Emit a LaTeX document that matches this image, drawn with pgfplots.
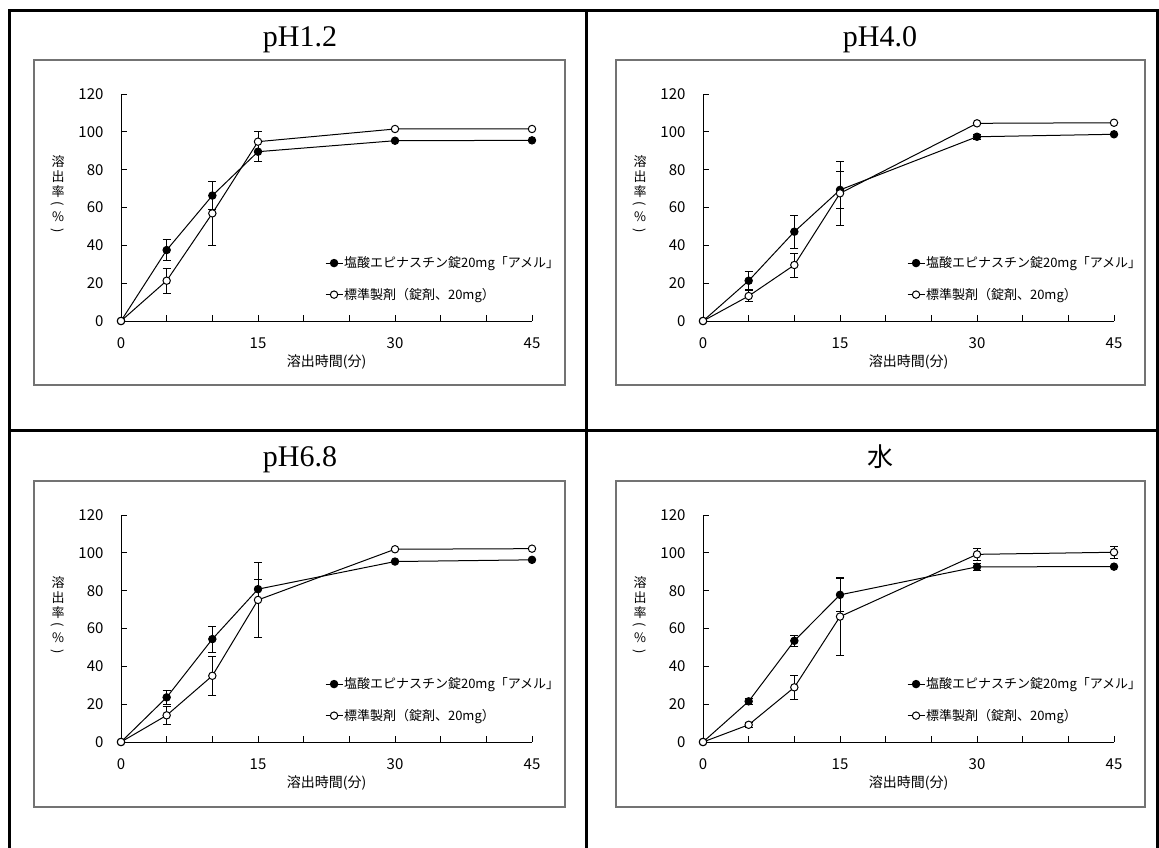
\documentclass[border=0pt]{standalone}
\usepackage{fontspec}
\setmainfont{Noto Sans CJK JP}
\newfontfamily\gothic{Noto Sans CJK JP}
\newfontfamily\mincho{Liberation Serif}
\usepackage{pgfplots}
\pgfplotsset{compat=1.18}

\pgfplotsset{
  panel/.style={
    scale only axis, width=411pt, height=227pt, anchor=south west,
    xmin=0, xmax=45, ymin=0, ymax=120, enlargelimits=false, clip=false,
    axis x line=bottom, axis y line=left,
    axis line style={-, black, line width=0.9pt},
    xtick={0,5,...,45}, xticklabels={0,,,15,,,30,,,45},
    ytick={0,20,...,120},
    tick align=inside, major tick length=6pt,
    tick style={black, line width=0.9pt},
    /pgf/number format/assume math mode=true,
    ticklabel style={font=\gothic\fontsize{15}{15}\selectfont},
    yticklabel style={xshift=-14pt},
    xticklabel style={yshift=-13pt},
    legend style={at={(0.496,0.288)}, anchor=north west, draw=none, fill=none,
      font=\gothic\fontsize{13}{15}\selectfont, row sep=17pt,
      inner sep=0pt, nodes={inner sep=1pt}},
    legend cell align=left,
    legend image code/.code={%
      \draw[mark repeat=2,mark phase=2] plot coordinates {(0pt,0pt) (8.5pt,0pt) (17pt,0pt)};},
  },
  filled/.style={black, line width=1pt, mark=*, mark size=3.7pt,
    mark options={fill=black, solid}},
  open/.style={black, line width=1pt, mark=*, mark size=3.7pt,
    mark options={fill=white, solid}},
  errs/.style={black, only marks, mark=none, forget plot,
    error bars/.cd, y dir=both, y explicit,
    error bar style={line width=0.8pt},
    error mark options={rotate=90, mark size=4pt, line width=0.8pt}},
}
\tikzset{ylab/.style={font=\gothic\fontsize{13}{13}\selectfont, inner sep=0pt, xshift=-63pt}}

\newcommand{\labels}{%
  \node[font=\gothic\fontsize{14}{14}\selectfont, yshift=-41pt] at (rel axis cs:0.5,0) {溶出時間(分)};
  \node[ylab, yshift=159pt] at (rel axis cs:0,0) {溶};
  \node[ylab, yshift=144pt] at (rel axis cs:0,0) {出};
  \node[ylab, yshift=129pt] at (rel axis cs:0,0) {率};
  \node[ylab, yshift=117pt] at (rel axis cs:0,0) {\rotatebox{-90}{(}};
  \node[ylab, yshift=104pt] at (rel axis cs:0,0) {\%};
  \node[ylab, yshift=90pt] at (rel axis cs:0,0) {\rotatebox{-90}{)}};
}

\begin{document}
\begin{tikzpicture}[x=1pt,y=1pt]
\path[use as bounding box] (0,0) rectangle (1159,847);

% outer table lines
\draw[black, line width=3pt] (9,-5) -- (9,836) -- (1157,836) -- (1157,-5);
\draw[black, line width=3pt] (586,836) -- (586,-5);
\draw[black, line width=3pt] (9,416) -- (1157,416);

% chart frames
\draw[black!55, line width=2pt] (34,787) rectangle (565,462);
\draw[black!55, line width=2pt] (616,787) rectangle (1145,462);
\draw[black!55, line width=2pt] (34,366) rectangle (565,40);
\draw[black!55, line width=2pt] (616,366) rectangle (1145,40);

% titles
\node[font=\mincho\fontsize{30}{30}\selectfont, anchor=base] at (300,800) {pH1.2};
\node[font=\mincho\fontsize{30}{30}\selectfont, anchor=base] at (880,800) {pH4.0};
\node[font=\mincho\fontsize{30}{30}\selectfont, anchor=base] at (300,380) {pH6.8};
\node[font=\gothic\fontsize{26}{26}\selectfont, anchor=base] at (880,380) {水};

%% pH1.2
\begin{axis}[panel, at={(121pt,526pt)}]
\addplot[errs] coordinates {(5,37.5)+-(0,5.5) (10,66.3)+-(0,7.4) (15,89.5)+-(0,5.3)};
\addplot[errs] coordinates {(5,21.3)+-(0,6.6) (10,56.9)+-(0,16.7) (15,94.8)+-(0,5.3)};
\addplot[filled] coordinates {(0,0) (5,37.5) (10,66.3) (15,89.5) (30,95.3) (45,95.5)};
\addlegendentry{塩酸エピナスチン錠20mg「アメル」}
\addplot[open] coordinates {(0,0) (5,21.3) (10,56.9) (15,94.8) (30,101.5) (45,101.5)};
\addlegendentry{標準製剤（錠剤、20mg）}
\labels
\end{axis}

%% pH4.0
\begin{axis}[panel, at={(703pt,526pt)}]
\addplot[errs] coordinates {(5,21.3)+-(0,4.8) (10,47.2)+-(0,8.7) (15,69.3)+-(0,10) (30,97.4)+-(0,1.5)};
\addplot[errs] coordinates {(5,13.2)+-(0,3) (10,29.6)+-(0,6.3) (15,67.5)+-(0,17)};
\addplot[filled] coordinates {(0,0) (5,21.3) (10,47.2) (15,69.3) (30,97.4) (45,98.7)};
\addlegendentry{塩酸エピナスチン錠20mg「アメル」}
\addplot[open] coordinates {(0,0) (5,13.2) (10,29.6) (15,67.5) (30,104.5) (45,104.8)};
\addlegendentry{標準製剤（錠剤、20mg）}
\labels
\end{axis}

%% pH6.8
\begin{axis}[panel, at={(121pt,105pt)}]
\addplot[errs] coordinates {(5,23.6)+-(0,3.5) (10,54.4)+-(0,6.8) (15,80.8)+-(0,5.3)};
\addplot[errs] coordinates {(5,14.1)+-(0,4.8) (10,35.0)+-(0,10.2) (15,75.1)+-(0,19.8)};
\addplot[filled] coordinates {(0,0) (5,23.6) (10,54.4) (15,80.8) (30,95.4) (45,96.3)};
\addlegendentry{塩酸エピナスチン錠20mg「アメル」}
\addplot[open] coordinates {(0,0) (5,14.1) (10,35.0) (15,75.1) (30,101.9) (45,102.2)};
\addlegendentry{標準製剤（錠剤、20mg）}
\labels
\end{axis}

%% water
\begin{axis}[panel, at={(703pt,105pt)}]
\addplot[errs] coordinates {(5,21.5)+-(0,1.5) (10,53.5)+-(0,3) (15,77.8)+-(0,8.8) (30,92.6)+-(0,2)};
\addplot[errs] coordinates {(5,9.1)+-(0,1.5) (10,28.9)+-(0,6.2) (15,66.3)+-(0,20.5) (30,99.2)+-(0,3.3) (45,100.3)+-(0,3.3)};
\addplot[filled] coordinates {(0,0) (5,21.5) (10,53.5) (15,77.8) (30,92.6) (45,92.7)};
\addlegendentry{塩酸エピナスチン錠20mg「アメル」}
\addplot[open] coordinates {(0,0) (5,9.1) (10,28.9) (15,66.3) (30,99.2) (45,100.3)};
\addlegendentry{標準製剤（錠剤、20mg）}
\labels
\end{axis}
\end{tikzpicture}
\end{document}
